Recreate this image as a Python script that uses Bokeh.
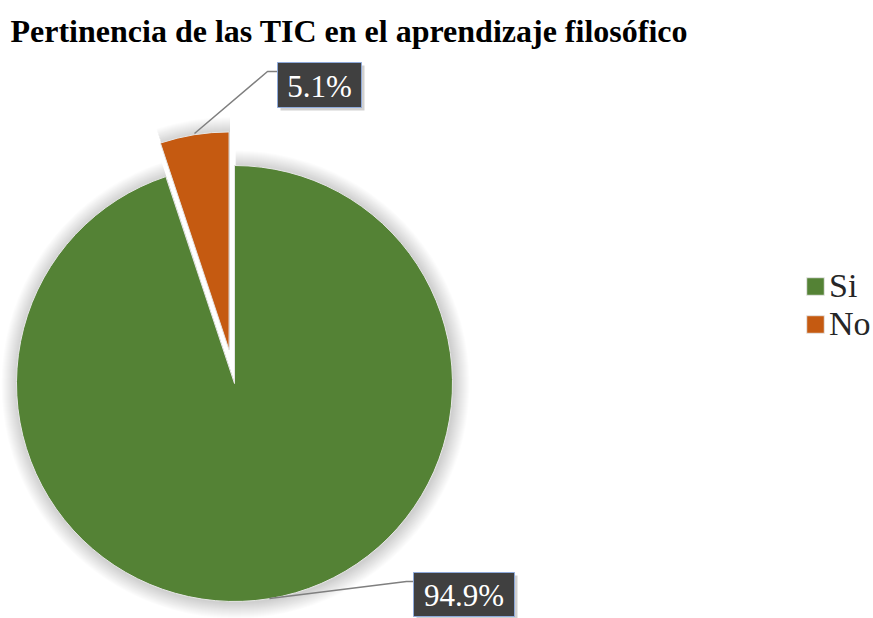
import math
from bokeh.plotting import figure
from bokeh.models import Range1d, Label, Legend, LegendItem
from bokeh.core.properties import value
from bokeh.embed import file_html
from bokeh.resources import INLINE

# ---- data ----
categories = ["Si", "No"]
percentages = [94.9, 5.1]
colors = ["#548235", "#C55A11"]
title_text = "Pertinencia de las TIC en el aprendizaje filosófico"

W, H = 873, 618
p = figure(width=W, height=H, output_backend="svg", toolbar_location=None,
           x_range=Range1d(0, W), y_range=Range1d(0, H), min_border=0)
p.axis.visible = False
p.grid.visible = False
p.outline_line_color = None
p.background_fill_color = "white"
p.border_fill_color = "white"

SERIF = "Liberation Serif"

cx, cy = 234, 618 - 383
R = 218
explode = 34

total = sum(percentages)
angles = []
acc = 0.0
for v in percentages:
    a0 = 90 - 360 * acc / total
    acc += v
    a1 = 90 - 360 * acc / total
    angles.append((a1, a0))

centers = []
for i, (a1, a0) in enumerate(angles):
    if i == 0:
        centers.append((cx, cy))
    else:
        mid = math.radians((a1 + a0) / 2)
        centers.append((cx + explode * math.cos(mid), cy + explode * math.sin(mid)))

# soft shadow glow
for k in range(16, 0, -1):
    for i, (a1, a0) in enumerate(angles):
        x0, y0 = centers[i]
        p.wedge(x=x0 + 1, y=y0 - 1, radius=R + k, start_angle=math.radians(a1),
                end_angle=math.radians(a0), fill_color="#000000", fill_alpha=0.013,
                line_color=None)

renderers = []
for i, (a1, a0) in enumerate(angles):
    x0, y0 = centers[i]
    r = p.wedge(x=x0, y=y0, radius=R, start_angle=math.radians(a1),
                end_angle=math.radians(a0), fill_color=colors[i],
                line_color="#e6e6e6", line_width=1)
    renderers.append(r)

label_boxes = [
    ((413, 572, 514, 616), [(269, 598), (406, 581), (413, 581)]),
    ((277, 62, 361, 107), [(194, 133), (267, 71), (277, 71)]),
]
for i, v in enumerate(percentages):
    (l, t, rr, b), pts = label_boxes[i]
    p.line([q[0] for q in pts], [H - q[1] for q in pts], line_color="#7f7f7f", line_width=1.5)
    p.quad(left=l + 3, right=rr + 3, top=H - t - 3, bottom=H - b - 3,
           fill_color="#000000", fill_alpha=0.18, line_color=None)
    p.quad(left=l, right=rr, top=H - t, bottom=H - b, fill_color="#404040",
           line_color="#8eaadb", line_width=1)
    p.text(x=[(l + rr) / 2], y=[H - (t + b) / 2 - 1], text=[f"{v:.1f}%"],
           text_color="white", text_font=value(SERIF), text_font_size="31px",
           text_align="center", text_baseline="middle")

p.add_layout(Label(x=10, y=H - 30, x_units="screen", y_units="screen",
                   text=title_text, text_font=SERIF, text_font_style="bold",
                   text_font_size="32px", text_color="black",
                   text_baseline="alphabetic"))

legend = Legend(items=[LegendItem(label=categories[i], renderers=[renderers[i]])
                       for i in range(len(categories))],
                location=(804, H - 343), orientation="vertical",
                glyph_width=22, glyph_height=22, label_text_font=SERIF,
                label_text_font_size="34px", label_standoff=3, spacing=0,
                label_height=36,
                padding=0, margin=0, border_line_color=None,
                background_fill_alpha=0, label_text_color="#262626")
p.add_layout(legend)

open("out.html", "w").write(file_html(p, INLINE))
